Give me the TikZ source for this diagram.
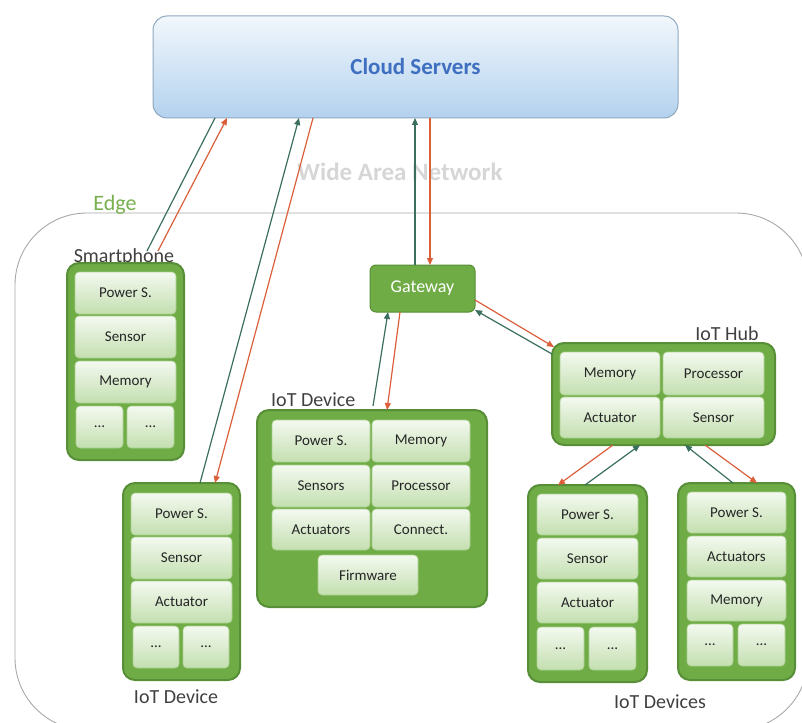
\documentclass[tikz,border=0pt]{standalone}
\usepackage{fontspec}
\setmainfont{Carlito}
\usetikzlibrary{arrows.meta}

\definecolor{cloudtop}{HTML}{F2F7FC}
\definecolor{cloudbot}{HTML}{B3D2EE}
\definecolor{cloudline}{HTML}{8FA8C0}
\definecolor{cloudtext}{HTML}{3F6FC0}
\definecolor{wan}{HTML}{D6D6D6}
\definecolor{edgeline}{HTML}{A8A8A8}
\definecolor{edgetext}{HTML}{78B050}
\definecolor{devfill}{HTML}{6FAC46}
\definecolor{devline}{HTML}{578E37}
\definecolor{celltop}{HTML}{F4F9F0}
\definecolor{cellbot}{HTML}{C3DFAF}
\definecolor{cellline}{HTML}{A9CF8E}
\definecolor{upline}{HTML}{3A6E5E}
\definecolor{downline}{HTML}{DA5F3A}
\definecolor{labeltext}{HTML}{404040}
\definecolor{celltext}{HTML}{262626}

% box given by its corners: [style]{name}{x1}{y1}{x2}{y2}{text}
\newcommand\placebox[7][]{%
  \pgfmathsetmacro\pbw{#5-#3}%
  \pgfmathsetmacro\pbh{#6-#4}%
  \node[#1, minimum width=\pbw pt, minimum height=\pbh pt] (#2) at ({(#3+#5)/2},{(#4+#6)/2}) {#7};}

\tikzset{
  cloudbox/.style={rounded corners=14pt, draw=cloudline, line width=1pt,
    top color=cloudtop, bottom color=cloudbot, inner sep=0pt, text=cloudtext,
    font=\bfseries\fontsize{23}{23}\selectfont},
  device/.style={rounded corners=12pt, fill=devfill, draw=devline, line width=2pt, inner sep=0pt},
  cell/.style={rounded corners=4pt, draw=cellline, line width=0.6pt,
    top color=celltop, bottom color=cellbot, inner sep=0pt, text=celltext,
    font=\fontsize{15}{15}\selectfont},
  gw/.style={rounded corners=6pt, fill=devfill, draw=devline, line width=1pt,
    inner sep=0pt, text=white, font=\fontsize{18}{18}\selectfont},
  lbl/.style={text=labeltext, font=\fontsize{20}{20}\selectfont, inner sep=0pt},
  tipped/.style={-{Triangle[length=7pt,width=6pt]}},
  upflow/.style={draw=upline, line width=1.2pt},
  downflow/.style={draw=downline, line width=1.2pt},
}

\begin{document}
\begin{tikzpicture}[x=1pt, y=-1pt]
\useasboundingbox (0,0) rectangle (802,722);

% edge region
\begin{scope}
  \clip (0,0) rectangle (802,722);
  \draw[edgeline, line width=0.9pt, rounded corners=72pt] (15,213) rectangle (808,730);
\end{scope}
\node[text=edgetext, font=\fontsize{22}{22}\selectfont, inner sep=0pt] (edgelbl) at (115,205) {Edge};
\node[text=wan, font=\bfseries\fontsize{25}{25}\selectfont, inner sep=0pt] (wanlbl) at (400,172) {Wide Area Network};

% cloud
\placebox[cloudbox]{cloud}{153}{16}{678}{118}{Cloud Servers}

% gateway
\placebox[gw]{gateway}{370}{265}{475}{312}{Gateway}

% smartphone
\node[lbl] (phonelbl) at (124,257) {Smartphone};
\placebox[device]{phone}{67}{263}{184}{460}{}
\placebox[cell]{phone1}{75}{272}{176}{314}{Power S.}
\placebox[cell]{phone2}{75}{316}{176}{358}{Sensor}
\placebox[cell]{phone3}{75}{361}{176}{403}{Memory}
\placebox[cell]{phone4}{76}{406}{123}{448}{...}
\placebox[cell]{phone5}{127}{406}{174}{448}{...}

% IoT device, bottom left
\placebox[device]{devA}{123}{483}{240}{680}{}
\placebox[cell]{devA1}{131}{493}{232}{535}{Power S.}
\placebox[cell]{devA2}{131}{537}{232}{579}{Sensor}
\placebox[cell]{devA3}{131}{581}{232}{623}{Actuator}
\placebox[cell]{devA4}{133}{626}{179}{668}{...}
\placebox[cell]{devA5}{183}{626}{229}{668}{...}
\node[lbl] (devAlbl) at (176,697) {IoT Device};

% IoT device, middle
\node[lbl, anchor=west] (devBlbl) at (271,400) {IoT Device};
\placebox[device]{devB}{257}{410}{487}{607}{}
\placebox[cell]{devB1}{272}{420}{370}{462}{Power S.}
\placebox[cell]{devB2}{372}{420}{470}{462}{Memory}
\placebox[cell]{devB3}{272}{465}{370}{507}{Sensors}
\placebox[cell]{devB4}{372}{465}{470}{507}{Processor}
\placebox[cell]{devB5}{272}{509}{370}{550}{Actuators}
\placebox[cell]{devB6}{372}{509}{470}{550}{Connect.}
\placebox[cell]{devB7}{318}{555}{418}{595}{Firmware}

% IoT hub
\node[lbl] (hublbl) at (727,334) {IoT Hub};
\placebox[device]{hub}{552}{343}{775}{445}{}
\placebox[cell]{hub1}{560}{352}{660}{395}{Memory}
\placebox[cell]{hub2}{663}{352}{764}{395}{Processor}
\placebox[cell]{hub3}{560}{397}{660}{438}{Actuator}
\placebox[cell]{hub4}{663}{397}{764}{438}{Sensor}

% IoT devices under the hub
\placebox[device]{devC}{528}{485}{647}{682}{}
\placebox[cell]{devC1}{537}{494}{638}{535}{Power S.}
\placebox[cell]{devC2}{537}{538}{638}{579}{Sensor}
\placebox[cell]{devC3}{537}{582}{638}{623}{Actuator}
\placebox[cell]{devC4}{537}{627}{584}{670}{...}
\placebox[cell]{devC5}{589}{627}{636}{670}{...}

\placebox[device]{devD}{678}{483}{795}{680}{}
\placebox[cell]{devD1}{687}{492}{786}{533}{Power S.}
\placebox[cell]{devD2}{687}{536}{786}{577}{Actuators}
\placebox[cell]{devD3}{687}{580}{786}{621}{Memory}
\placebox[cell]{devD4}{687}{624}{733}{666}{...}
\placebox[cell]{devD5}{738}{624}{785}{666}{...}
\node[lbl] (devslbl) at (660,702) {IoT Devices};

% connector end points
\coordinate (pA) at (147,251);  \coordinate (cA) at (215,118);
\coordinate (pB) at (158,251);  \coordinate (cB) at (227,118);
\coordinate (aA) at (200,483);  \coordinate (cC) at (299,118);
\coordinate (aB) at (215,483);  \coordinate (cD) at (313,118);
\coordinate (gA) at (415,265);  \coordinate (cE) at (415,118);
\coordinate (gB) at (430,265);  \coordinate (cF) at (430,118);
\coordinate (bA) at (373,406);  \coordinate (gC) at (388,312);
\coordinate (bB) at (387,410);  \coordinate (gD) at (400,312);
\coordinate (gE) at (475,300);  \coordinate (hA) at (554,347);
\coordinate (gF) at (475,310);  \coordinate (hB) at (552,354);
\coordinate (hC) at (613,445);  \coordinate (kA) at (558,485);
\coordinate (hD) at (640,445);  \coordinate (kB) at (585,485);
\coordinate (hE) at (685,445);  \coordinate (kC) at (733,483);
\coordinate (hF) at (705,445);  \coordinate (kD) at (757,483);

% links
\draw[upflow] (pA) -- (cA);
\draw[downflow, tipped] (pB) -- (cB);
\draw[upflow, tipped] (aA) -- (cC);
\draw[downflow, tipped] (cD) -- (aB);
\draw[upflow, tipped] (gA) -- (cE);
\draw[downflow, tipped] (cF) -- (gB);
\draw[upflow, tipped] (bA) -- (gC);
\draw[downflow, tipped] (gD) -- (bB);
\draw[downflow, tipped] (gE) -- (hA);
\draw[upflow, tipped] (hB) -- (gF);
\draw[downflow, tipped] (hC) -- (kA);
\draw[upflow, tipped] (kB) -- (hD);
\draw[upflow, tipped] (kC) -- (hE);
\draw[downflow, tipped] (hF) -- (kD);
\end{tikzpicture}
\end{document}
